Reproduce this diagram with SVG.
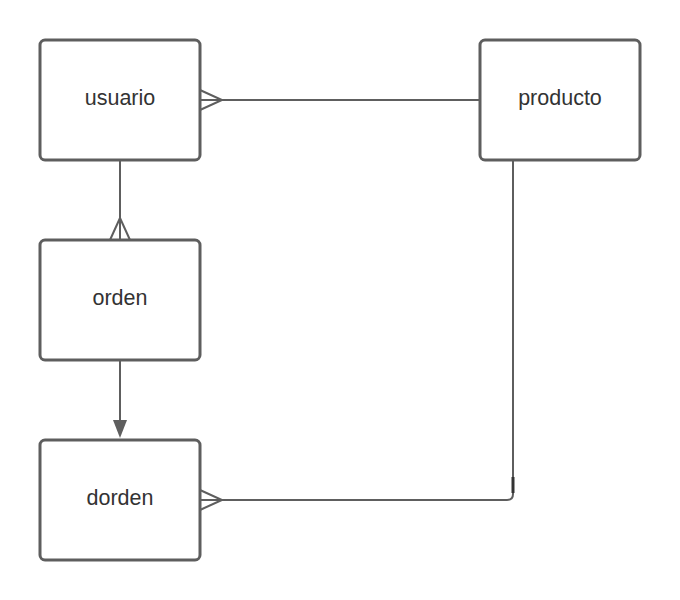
<svg xmlns="http://www.w3.org/2000/svg" width="680" height="600" viewBox="0 0 680 600">
<style>
.box{fill:#fff;stroke:#5e5e5e;stroke-width:3}
.lbl{font-family:"Liberation Sans",Arial,sans-serif;font-size:21.5px;fill:#333;text-anchor:middle;dominant-baseline:central}
.ln{fill:none;stroke:#5e5e5e;stroke-width:2}
</style>
<rect width="680" height="600" fill="#fff"/>
<g id="connectors">
<path class="ln" d="M200,100 H480"/>
<path class="ln" d="M200,90 L222,100 L200,110"/>
<path class="ln" d="M120,160 V240"/>
<path class="ln" d="M110,240 L120,218 L130,240"/>
<path class="ln" d="M120,360 V421"/>
<path d="M113,420 L127,420 L120,438 Z" fill="#5e5e5e"/>
<path class="ln" d="M513,160 V494 Q513,500 507,500 H200"/>
<path d="M513,477 V493" stroke="#333" stroke-width="3"/>
<path class="ln" d="M200,490 L222,500 L200,510"/>
</g>
<g id="usuario"><rect class="box" x="40" y="40" width="160" height="120" rx="5"/><text class="lbl" x="120" y="98">usuario</text></g>
<g id="producto"><rect class="box" x="480" y="40" width="160" height="120" rx="5"/><text class="lbl" x="560" y="98">producto</text></g>
<g id="orden"><rect class="box" x="40" y="240" width="160" height="120" rx="5"/><text class="lbl" x="120" y="298">orden</text></g>
<g id="dorden"><rect class="box" x="40" y="440" width="160" height="120" rx="5"/><text class="lbl" x="120" y="498">dorden</text></g>
</svg>
